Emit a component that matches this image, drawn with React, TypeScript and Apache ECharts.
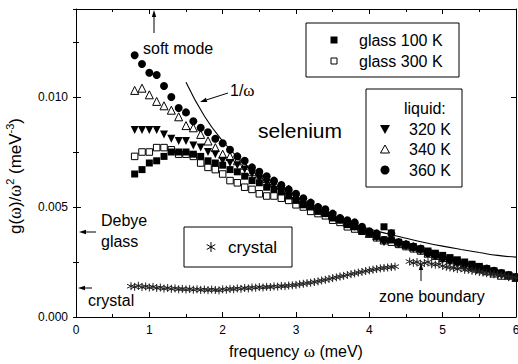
import React, { useEffect, useRef } from "react";
import * as echarts from "echarts";

// frequency grid (meV) of the measured spectra
const omega = [
  0.8, 0.9, 1.0, 1.1, 1.2, 1.3, 1.4, 1.5, 1.6, 1.7,
  1.8, 1.9, 2.0, 2.1, 2.2, 2.3, 2.4, 2.5, 2.6, 2.7,
  2.8, 2.9, 3.0, 3.1, 3.2, 3.3, 3.4, 3.5, 3.6, 3.7,
  3.8, 3.9, 4.0, 4.1, 4.2, 4.3, 4.4, 4.5, 4.6, 4.7,
  4.8, 4.9, 5.0, 5.1, 5.2, 5.3, 5.4, 5.5, 5.6, 5.7,
  5.8, 5.9, 6.0,
];

const glass100 = [
  0.0065, 0.0067, 0.0070, 0.0071, 0.0073, 0.0075, 0.0075, 0.0075, 0.0074, 0.0073,
  0.0071, 0.0070, 0.0069, 0.0067, 0.0066, 0.0064, 0.0062, 0.0061, 0.0059, 0.0058,
  0.0057, 0.0055, 0.0053, 0.0051, 0.0050, 0.0048, 0.0047, 0.0045, 0.0044, 0.0042,
  0.0041, 0.0039, 0.0038, 0.0037, 0.0041, 0.0035, 0.0034, 0.0033, 0.0032, 0.0031,
  0.0030, 0.0029, 0.0028, 0.0027, 0.0026, 0.0025, 0.0024, 0.0023, 0.0022, 0.0021,
  0.0020, 0.0019, 0.0018,
];

const glass300 = [
  0.0073, 0.0075, 0.0075, 0.0077, 0.0077, 0.0076, 0.0074, 0.0074, 0.0073, 0.0070,
  0.0068, 0.0067, 0.0065, 0.0062, 0.0061, 0.0059, 0.0058, 0.0056, 0.0055, 0.0055,
  0.0054, 0.0053, 0.0051, 0.0050, 0.0048, 0.0047, 0.0046, 0.0044, 0.0043, 0.0041,
  0.0040, 0.0039, 0.0038, 0.0036, 0.0035, 0.0034, 0.0033, 0.0032, 0.0031, 0.0030,
  0.0029, 0.0028, 0.0027, 0.0026, 0.0025, 0.0024, 0.0023, 0.0022, 0.0021, 0.0020,
  0.0019, 0.0019, 0.0018,
];

const liquid320 = [
  0.0085, 0.0085, 0.0085, 0.0085, 0.0083, 0.0081, 0.0080, 0.0080, 0.0078, 0.0077,
  0.0075, 0.0074, 0.0071, 0.0070, 0.0069, 0.0067, 0.0065, 0.0063, 0.0061, 0.0060,
  0.0058, 0.0056, 0.0054, 0.0052, 0.0051, 0.0049, 0.0047, 0.0046, 0.0044, 0.0042,
  0.0041, 0.0039, 0.0038, 0.0036, 0.0034, 0.0038, 0.0033, 0.0032, 0.0031, 0.0030,
  0.0029, 0.0028, 0.0026, 0.0025, 0.0024, 0.0023, 0.0023, 0.0022, 0.0021, 0.0020,
  0.0019, 0.0018, 0.0018,
];

const liquid340 = [
  0.0103, 0.0104, 0.0101, 0.0098, 0.0096, 0.0094, 0.0091, 0.0087, 0.0086, 0.0083,
  0.0080, 0.0077, 0.0074, 0.0073, 0.0071, 0.0069, 0.0066, 0.0065, 0.0063, 0.0061,
  0.0060, 0.0058, 0.0055, 0.0053, 0.0051, 0.0050, 0.0048, 0.0046, 0.0045, 0.0043,
  0.0042, 0.0040, 0.0038, 0.0037, 0.0035, 0.0036, 0.0034, 0.0033, 0.0032, 0.0031,
  0.0029, 0.0028, 0.0027, 0.0026, 0.0024, 0.0024, 0.0023, 0.0022, 0.0021, 0.0020,
  0.0019, 0.0019, 0.0018,
];

const liquid360 = [
  0.0119, 0.0115, 0.0111, 0.0110, 0.0105, 0.0100, 0.0095, 0.0093, 0.0089, 0.0086,
  0.0084, 0.0081, 0.0079, 0.0076, 0.0073, 0.0071, 0.0068, 0.0066, 0.0064, 0.0062,
  0.0060, 0.0058, 0.0056, 0.0054, 0.0052, 0.0050, 0.0049, 0.0047, 0.0045, 0.0044,
  0.0043, 0.0041, 0.0039, 0.0038, 0.0035, 0.0038, 0.0034, 0.0033, 0.0032, 0.0031,
  0.0029, 0.0028, 0.0027, 0.0026, 0.0025, 0.0024, 0.0023, 0.0022, 0.0022, 0.0021,
  0.0020, 0.0019, 0.0018,
];

const crystalOmega = [
  0.75, 0.80, 0.85, 0.90, 0.95, 1.00, 1.05, 1.10, 1.15, 1.20,
  1.25, 1.30, 1.35, 1.40, 1.45, 1.50, 1.55, 1.60, 1.65, 1.70,
  1.75, 1.80, 1.85, 1.90, 1.95, 2.00, 2.05, 2.10, 2.15, 2.20,
  2.25, 2.30, 2.35, 2.40, 2.45, 2.50, 2.55, 2.60, 2.65, 2.70,
  2.75, 2.80, 2.85, 2.90, 2.95, 3.00, 3.05, 3.10, 3.15, 3.20,
  3.25, 3.30, 3.35, 3.40, 3.45, 3.50, 3.55, 3.60, 3.65, 3.70,
  3.75, 3.80, 3.85, 3.90, 3.95, 4.00, 4.05, 4.10, 4.15, 4.20,
  4.25, 4.30, 4.35,
  4.55, 4.60, 4.65, 4.70, 4.75, 4.80, 4.85, 4.90, 4.95, 5.00,
  5.05, 5.10, 5.15, 5.20, 5.25, 5.30, 5.35, 5.40, 5.45, 5.50,
  5.55, 5.60, 5.65, 5.70, 5.75, 5.80, 5.85, 5.90, 5.95, 6.00,
];

const crystalValues = [
  0.00140, 0.00137, 0.00142, 0.00136, 0.00139, 0.00134, 0.00137, 0.00132, 0.00134, 0.00129,
  0.00132, 0.00128, 0.00130, 0.00126, 0.00128, 0.00125, 0.00127, 0.00124, 0.00126, 0.00123,
  0.00125, 0.00122, 0.00125, 0.00123, 0.00121, 0.00126, 0.00124, 0.00128, 0.00126, 0.00130,
  0.00128, 0.00132, 0.00130, 0.00134, 0.00133, 0.00136, 0.00134, 0.00137, 0.00136, 0.00139,
  0.00138, 0.00141, 0.00140, 0.00143, 0.00144, 0.00146, 0.00149, 0.00151, 0.00154, 0.00156,
  0.00159, 0.00162, 0.00166, 0.00169, 0.00173, 0.00177, 0.00180, 0.00184, 0.00187, 0.00191,
  0.00195, 0.00198, 0.00202, 0.00205, 0.00209, 0.00212, 0.00215, 0.00218, 0.00221, 0.00223,
  0.00225, 0.00227, 0.00229,
  0.00252, 0.00246, 0.00250, 0.00240, 0.00245, 0.00250, 0.00240, 0.00238, 0.00240, 0.00232,
  0.00228, 0.00225, 0.00222, 0.00218, 0.00222, 0.00214, 0.00215, 0.00210, 0.00208, 0.00204,
  0.00202, 0.00199, 0.00196, 0.00194, 0.00191, 0.00189, 0.00186, 0.00183, 0.00180, 0.00178,
];

// the 1/omega guide curve
const invOmega = [1.5, 1.75, 2.0, 2.25, 2.5, 2.75, 3.0, 3.25, 3.5, 3.75, 4.0, 4.25, 4.5, 4.75, 5.0, 5.25, 5.5, 5.75, 6.0];
const invValues = [0.01067, 0.00914, 0.0080, 0.00711, 0.0064, 0.00582, 0.00533, 0.00492, 0.00457, 0.00427, 0.0040, 0.00378, 0.00358, 0.00339, 0.00322, 0.00307, 0.00293, 0.00280, 0.00272];

const yTickLabels = ["0.000", "0.005", "0.010"];

const FONT = "'Liberation Sans', Arial, Helvetica, sans-serif";
const SERIF = "'Liberation Serif', 'Times New Roman', serif";

function arrow(x1: number, y1: number, x2: number, y2: number) {
  const dx = x2 - x1;
  const dy = y2 - y1;
  const len = Math.sqrt(dx * dx + dy * dy);
  const ux = dx / len;
  const uy = dy / len;
  const hl = 7;
  const hw = 2.2;
  const bx = x2 - ux * hl;
  const by = y2 - uy * hl;
  return {
    type: "group",
    z: 100,
    children: [
      { type: "line", z: 100, shape: { x1, y1, x2: bx, y2: by }, style: { stroke: "#000", lineWidth: 1 } },
      {
        type: "polygon",
        z: 100,
        shape: { points: [[x2, y2], [bx - uy * hw, by + ux * hw], [bx + uy * hw, by - ux * hw]] },
        style: { fill: "#000" },
      },
    ],
  };
}

function txt(text: string, x: number, y: number, size = 16, extra: any = {}) {
  return {
    type: "text",
    z: 100,
    x,
    y,
    style: {
      text,
      fill: "#000",
      fontSize: size,
      fontFamily: FONT,
      align: "left",
      verticalAlign: "middle",
      ...extra,
    },
  };
}

function star(cx: number, cy: number, r: number) {
  const a = r * 0.866;
  const b = r * 0.5;
  const st = { stroke: "#000", lineWidth: 1 };
  return {
    type: "group",
    z: 100,
    children: [
      { type: "line", z: 100, shape: { x1: cx, y1: cy - r, x2: cx, y2: cy + r }, style: st },
      { type: "line", z: 100, shape: { x1: cx - a, y1: cy - b, x2: cx + a, y2: cy + b }, style: st },
      { type: "line", z: 100, shape: { x1: cx - a, y1: cy + b, x2: cx + a, y2: cy - b }, style: st },
    ],
  };
}

function pairs(xs: number[], ys: number[]) {
  return xs.map((x, i) => [x, ys[i]]);
}

export default function App() {
  const ref = useRef<HTMLDivElement>(null);

  useEffect(() => {
    if (!ref.current) return;
    const chart = echarts.init(ref.current, undefined, { renderer: "svg" });

    const axisLine = { show: true, onZero: false, lineStyle: { color: "#000", width: 1 } };
    const majorTick = { show: true, inside: true, length: 5, lineStyle: { color: "#000", width: 1 } };
    const minorTickOnly = { show: true, inside: true, length: 3, lineStyle: { color: "#000", width: 1 } };

    const isMajor = (v: number) => Math.abs(v / 0.005 - Math.round(v / 0.005)) < 1e-6;

    const option: any = {
      animation: false,
      backgroundColor: "#fff",
      grid: { left: 76, right: 2, top: 9, bottom: 47, containLabel: false, outerBoundsMode: "none" },
      xAxis: [
        {
          type: "value",
          min: 0,
          max: 6,
          interval: 1,
          position: "bottom",
          axisLine,
          axisTick: majorTick,
          minorTick: { show: true, splitNumber: 2, length: 3, lineStyle: { color: "#000", width: 1 } },
          splitLine: { show: false },
          minorSplitLine: { show: false },
          axisLabel: { color: "#000", fontSize: 12, fontFamily: FONT, margin: 7 },
          name: "frequency {w|ω} (meV)",
          nameLocation: "middle",
          nameGap: 26,
          nameTextStyle: {
            color: "#000",
            fontSize: 16,
            fontFamily: FONT,
            rich: { w: { fontSize: 17, fontFamily: SERIF, color: "#000" } },
          },
        },
        {
          type: "value",
          min: 0,
          max: 6,
          interval: 1,
          position: "top",
          axisLine,
          axisTick: majorTick,
          minorTick: { show: true, splitNumber: 2, length: 3, lineStyle: { color: "#000", width: 1 } },
          splitLine: { show: false },
          axisLabel: { show: false },
        },
      ],
      yAxis: [
        {
          type: "value",
          min: 0,
          max: 0.014,
          interval: 0.005,
          position: "left",
          axisLine,
          axisTick: majorTick,
          splitLine: { show: false },
          axisLabel: {
            color: "#000",
            fontSize: 12,
            fontFamily: FONT,
            margin: 8,
            formatter: (v: number) => (isMajor(v) ? yTickLabels[Math.round(v / 0.005)] ?? "" : ""),
          },
        },
        {
          type: "value",
          min: 0,
          max: 0.014,
          interval: 0.005,
          position: "right",
          axisLine,
          axisTick: majorTick,
          splitLine: { show: false },
          axisLabel: { show: false },
        },
        {
          type: "value",
          min: 0,
          max: 0.014,
          interval: 0.0025,
          position: "left",
          axisLine: { show: false },
          axisTick: minorTickOnly,
          splitLine: { show: false },
          axisLabel: { show: false },
        },
        {
          type: "value",
          min: 0,
          max: 0.014,
          interval: 0.0025,
          position: "right",
          axisLine: { show: false },
          axisTick: minorTickOnly,
          splitLine: { show: false },
          axisLabel: { show: false },
        },
      ],
      series: [
        {
          name: "glass 300 K",
          type: "scatter",
          data: pairs(omega, glass300),
          symbol: "rect",
          symbolSize: 6.5,
          itemStyle: { color: "#fff", borderColor: "#000", borderWidth: 1, opacity: 1 },
        },
        {
          name: "340 K",
          type: "scatter",
          data: pairs(omega, liquid340),
          symbol: "triangle",
          symbolSize: 8,
          itemStyle: { color: "#fff", borderColor: "#000", borderWidth: 1, opacity: 1 },
        },
        {
          name: "glass 100 K",
          type: "scatter",
          data: pairs(omega, glass100),
          symbol: "rect",
          symbolSize: 7,
          itemStyle: { color: "#000", opacity: 1 },
        },
        {
          name: "320 K",
          type: "scatter",
          data: pairs(omega, liquid320),
          symbol: "triangle",
          symbolRotate: 180,
          symbolSize: 8,
          itemStyle: { color: "#000", opacity: 1 },
        },
        {
          name: "360 K",
          type: "scatter",
          data: pairs(omega, liquid360),
          symbol: "circle",
          symbolSize: 8,
          itemStyle: { color: "#000", opacity: 1 },
        },
        {
          name: "crystal",
          type: "scatter",
          data: pairs(crystalOmega, crystalValues),
          symbol: "path://M5,0L5,10M0.67,2.5L9.33,7.5M0.67,7.5L9.33,2.5",
          symbolSize: 8,
          itemStyle: { color: "transparent", borderColor: "#222", borderWidth: 1, opacity: 1 },
        },
        {
          name: "1/ω",
          type: "line",
          data: pairs(invOmega, invValues),
          smooth: true,
          showSymbol: false,
          symbol: "none",
          lineStyle: { color: "#000", width: 1.1 },
        },
      ],
      graphic: [
        // y-axis title
        {
          type: "text",
          z: 100,
          x: 15,
          y: 176,
          rotation: Math.PI / 2,
          style: {
            text: "{a|g(}{w|ω}{a|)/}{w|ω}{s|2}{a| (meV}{s|-3}{a|)}",
            align: "center",
            verticalAlign: "middle",
            fill: "#000",
            rich: {
              a: { fontSize: 17, fontFamily: FONT, fill: "#000", lineHeight: 21 },
              w: { fontSize: 18, fontFamily: SERIF, fill: "#000", lineHeight: 21 },
              s: { fontSize: 11, fontFamily: FONT, fill: "#000", verticalAlign: "top", lineHeight: 12 },
            },
          },
        },
        // soft mode
        arrow(154, 33, 154, 10),
        txt("soft mode", 143, 48),
        // 1/omega
        arrow(228, 93, 200, 102),
        {
          type: "text",
          z: 100,
          x: 230,
          y: 90,
          style: {
            text: "{a|1/}{w|ω}",
            align: "left",
            verticalAlign: "middle",
            fill: "#000",
            rich: {
              a: { fontSize: 16, fontFamily: FONT, fill: "#000" },
              w: { fontSize: 17, fontFamily: SERIF, fill: "#000" },
            },
          },
        },
        // selenium
        txt("selenium", 258, 130, 21),
        // Debye glass
        txt("Debye", 101, 220),
        txt("glass", 101, 241),
        arrow(96, 232, 79, 232),
        // crystal (axis)
        txt("crystal", 88, 300),
        arrow(92, 288, 78, 288),
        // zone boundary
        txt("zone boundary", 379, 296),
        arrow(421, 281, 421, 263),
        // legend box 1
        { type: "rect", z: 100, shape: { x: 306, y: 23, width: 153, height: 54 }, style: { fill: "#fff", stroke: "#000", lineWidth: 1 } },
        { type: "rect", z: 101, shape: { x: 330.5, y: 36.5, width: 7, height: 7 }, style: { fill: "#000" } },
        { type: "rect", z: 101, shape: { x: 331, y: 58, width: 6, height: 6 }, style: { fill: "#fff", stroke: "#000", lineWidth: 1 } },
        { ...txt("glass 100 K", 359, 40), z: 101 },
        { ...txt("glass 300 K", 359, 61), z: 101 },
        // legend box 2
        { type: "rect", z: 100, shape: { x: 366, y: 89, width: 96, height: 98 }, style: { fill: "#fff", stroke: "#000", lineWidth: 1 } },
        { ...txt("liquid:", 404, 108), z: 101 },
        { type: "polygon", z: 101, shape: { points: [[380, 125], [390, 125], [385, 134]] }, style: { fill: "#000" } },
        { type: "polygon", z: 101, shape: { points: [[380.5, 153], [389.5, 153], [385, 145]] }, style: { fill: "#fff", stroke: "#000", lineWidth: 1 } },
        { type: "circle", z: 101, shape: { cx: 385, cy: 170, r: 4.5 }, style: { fill: "#000" } },
        { ...txt("320 K", 409, 129), z: 101 },
        { ...txt("340 K", 409, 149), z: 101 },
        { ...txt("360 K", 409, 170), z: 101 },
        // legend box 3
        { type: "rect", z: 100, shape: { x: 184, y: 227, width: 108, height: 40 }, style: { fill: "#fff", stroke: "#000", lineWidth: 1 } },
        { ...star(211, 247, 5), z: 101 },
        { ...txt("crystal", 228, 247, 17), z: 101 },
      ],
    };

    chart.setOption(option);
    return () => {
      chart.dispose();
    };
  }, []);

  return (
    <div
      ref={ref}
      style={{ position: "fixed", left: 0, top: 0, width: 518, height: 364, background: "#fff" }}
    />
  );
}
